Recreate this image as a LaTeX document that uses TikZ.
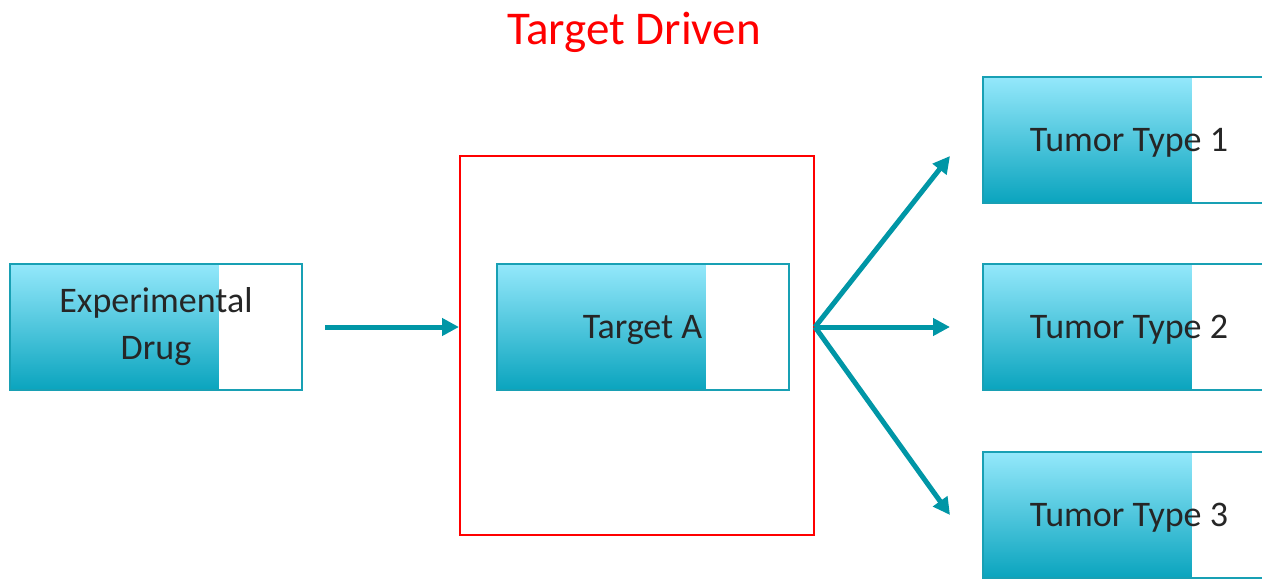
\documentclass[tikz,border=0pt]{standalone}
\usepackage{fontspec}
\setmainfont{Carlito}
\definecolor{tealline}{RGB}{0,150,166}
\definecolor{tealborder}{RGB}{24,160,180}
\definecolor{cyantop}{RGB}{148,232,251}
\definecolor{cyanbottom}{RGB}{10,164,190}
\definecolor{textgray}{RGB}{38,38,38}
\usetikzlibrary{calc, positioning, arrows.meta}

\begin{document}
\begin{tikzpicture}[
  x=0.5pt, y=-0.5pt,
  block/.style={draw=tealborder, line width=1pt, fill=white,
    minimum width=146pt, minimum height=63pt, inner sep=0pt,
    text height=11.5pt, text depth=0pt,
    text=textgray, font=\fontsize{18}{23.5}\selectfont, align=center,
    path picture={\shade[top color=cyantop, bottom color=cyanbottom]
      (path picture bounding box.south west) rectangle
      ($(path picture bounding box.north west)!0.715!(path picture bounding box.north east)$);}},
  frame/.style={draw=red, line width=1pt, minimum width=177pt, minimum height=189.5pt},
  link/.style={draw=tealline, line width=2.5pt, -{Triangle[length=8.5pt,width=8.5pt]}},
  node distance=29.5pt,
]
  \useasboundingbox (0,0) rectangle (1262,578);
  \clip (0,0) rectangle (1262,578);

  \node[text=red, font=\fontsize{23.5}{28}\selectfont] (title) at (634,32) {Target Driven};

  \node[frame] (frame) at (637,345.5) {};
  \node[block, text height={}, text depth={}] (drug) at (156,327) {Experimental\\Drug};
  \node[block] (ta) at (642.5,327) {Target A};
  \node[block] (t2) at (1129,327) {Tumor Type 2};
  \node[block, above=of t2] (t1) {Tumor Type 1};
  \node[block, below=30pt of t2] (t3) {Tumor Type 3};

  \draw[link] ([xshift=11pt]drug.east) -- (frame.west |- drug.east);
  \coordinate (fork) at (frame.east |- ta.east);
  \draw[link] (fork) -- ([xshift=-16pt, yshift=-8pt]t1.west);
  \draw[link] (fork) -- ([xshift=-16pt]t2.west);
  \draw[link] (fork) -- ([xshift=-16pt]t3.west);
\end{tikzpicture}
\end{document}
